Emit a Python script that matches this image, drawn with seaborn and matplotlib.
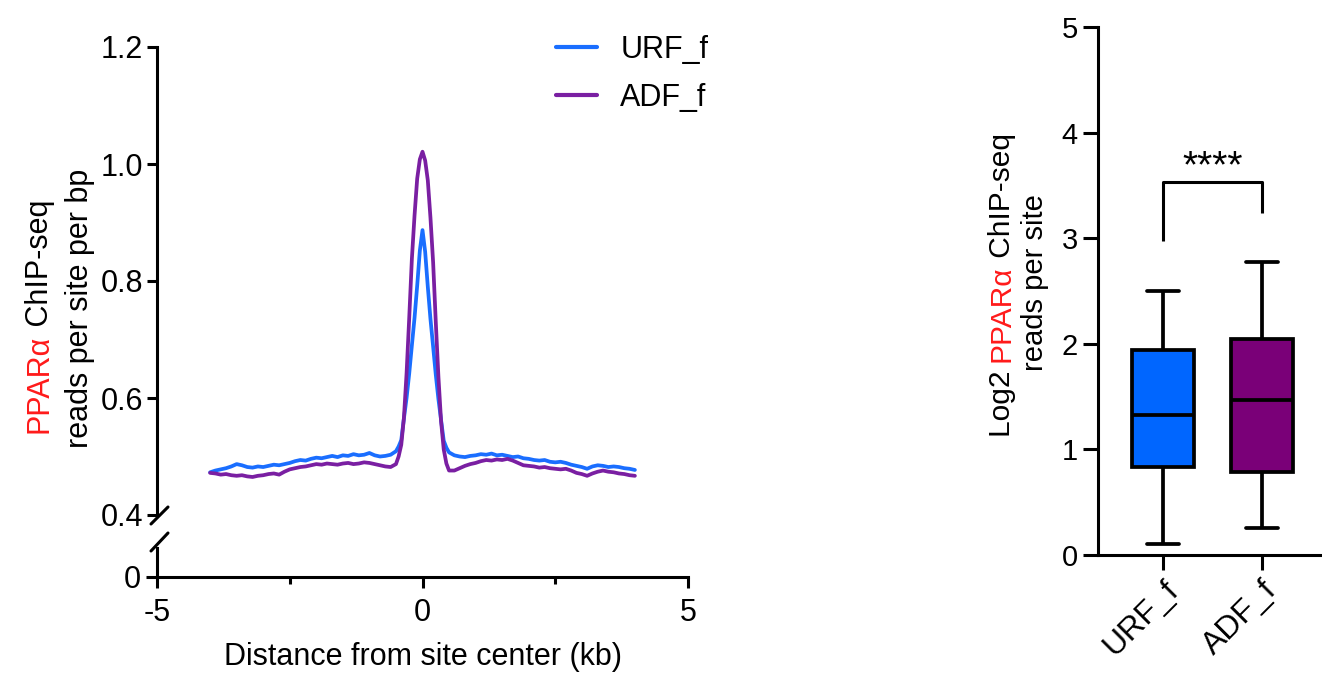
import numpy as np
import pandas as pd
import matplotlib
matplotlib.use("Agg")
import matplotlib.pyplot as plt
import seaborn as sns
from matplotlib.lines import Line2D

# ---------------- data ----------------
series_names = ["URF_f", "ADF_f"]
line_colors = ["#1A6EFF", "#7A1FA2"]
box_colors = ["#0066FF", "#7A0078"]

# distance grid (kb): flanks every 0.1 kb, centre every 0.05 kb
dist_left = np.round(np.arange(-4.0, -0.45, 0.1), 2)
dist_center = np.round(np.arange(-0.45, 0.46, 0.05), 2)
dist_right = np.round(np.arange(0.5, 4.01, 0.1), 2)

urf_left = [0.473, 0.476, 0.478, 0.480, 0.483, 0.487, 0.485, 0.482, 0.481, 0.483,
            0.482, 0.484, 0.486, 0.485, 0.487, 0.489, 0.492, 0.494, 0.493, 0.496,
            0.498, 0.497, 0.499, 0.501, 0.499, 0.502, 0.501, 0.504, 0.502, 0.503,
            0.506, 0.502, 0.500, 0.501, 0.503, 0.509]
urf_center = [0.517, 0.528, 0.565, 0.600, 0.642, 0.690, 0.737, 0.792, 0.852, 0.887,
              0.850, 0.790, 0.735, 0.688, 0.640, 0.598, 0.562, 0.527, 0.515]
urf_right = [0.507, 0.502, 0.500, 0.499, 0.501, 0.502, 0.504, 0.503, 0.505, 0.502,
             0.503, 0.501, 0.499, 0.500, 0.497, 0.496, 0.494, 0.493, 0.494, 0.491,
             0.490, 0.491, 0.489, 0.486, 0.484, 0.482, 0.479, 0.483, 0.485, 0.484,
             0.482, 0.483, 0.482, 0.480, 0.479, 0.477]

adf_left = [0.472, 0.471, 0.469, 0.470, 0.468, 0.467, 0.468, 0.466, 0.465, 0.467,
            0.468, 0.470, 0.471, 0.469, 0.474, 0.478, 0.480, 0.482, 0.483, 0.485,
            0.487, 0.486, 0.488, 0.487, 0.486, 0.488, 0.489, 0.487, 0.488, 0.490,
            0.489, 0.487, 0.485, 0.483, 0.482, 0.487]
adf_center = [0.500, 0.520, 0.566, 0.642, 0.737, 0.838, 0.912, 0.975, 1.008, 1.021,
              1.006, 0.972, 0.908, 0.832, 0.730, 0.636, 0.560, 0.512, 0.488]
adf_right = [0.476, 0.476, 0.480, 0.484, 0.487, 0.489, 0.492, 0.494, 0.493, 0.495,
             0.494, 0.496, 0.493, 0.489, 0.485, 0.484, 0.483, 0.481, 0.482, 0.480,
             0.479, 0.478, 0.479, 0.476, 0.472, 0.470, 0.467, 0.471, 0.474, 0.476,
             0.474, 0.473, 0.471, 0.470, 0.468, 0.467]

# box-plot summaries: min, Q1, median, Q3, max
urf_box = [0.10, 0.83, 1.33, 1.94, 2.50]
adf_box = [0.26, 0.79, 1.47, 2.05, 2.77]

left_yticks = [0.4, 0.6, 0.8, 1.0, 1.2]
left_ytick_labels = ["0.4", "0.6", "0.8", "1.0", "1.2"]
right_yticks = [0, 1, 2, 3, 4, 5]
sig_text = "****"

# ---------------- build tables ----------------
dist = np.concatenate([dist_left, dist_center, dist_right])
urf = np.array(urf_left + urf_center + urf_right)
adf = np.array(adf_left + adf_center + adf_right)
df_line = pd.DataFrame({
    "dist": np.concatenate([dist, dist]),
    "value": np.concatenate([urf, adf]),
    "series": [series_names[0]] * len(dist) + [series_names[1]] * len(dist),
})
df_box = pd.DataFrame({
    "group": [series_names[0]] * len(urf_box) + [series_names[1]] * len(adf_box),
    "value": urf_box + adf_box,
})

# ---------------- figure ----------------
sns.set_theme(style="ticks")
plt.rcParams["font.family"] = ["Liberation Sans", "DejaVu Sans"]
plt.rcParams["text.color"] = "black"
plt.rcParams["axes.labelcolor"] = "black"
plt.rcParams["xtick.color"] = "black"
plt.rcParams["ytick.color"] = "black"
W, H = 1322, 674
fig = plt.figure(figsize=(W / 100, H / 100), dpi=100)

def fr(px_left, px_top, px_right, px_bottom):
    return [px_left / W, 1 - px_bottom / H, (px_right - px_left) / W, (px_bottom - px_top) / H]

FS = 22
LW = 2.2

# upper (main) axis
ax = fig.add_axes(fr(157, 47, 688, 515))
sns.lineplot(data=df_line, x="dist", y="value", hue="series", palette=line_colors,
             hue_order=series_names, linewidth=2.7, ax=ax, estimator=None, sort=False)
ax.set_xlim(-5, 5)
ax.set_ylim(0.4, 1.2)
ax.set_yticks(left_yticks)
ax.set_yticklabels(left_ytick_labels)
for s in ["top", "right", "bottom"]:
    ax.spines[s].set_visible(False)
ax.spines["left"].set_linewidth(LW)
ax.spines["left"].set_color("black")
ax.tick_params(axis="x", bottom=False, labelbottom=False)
ax.tick_params(axis="y", length=7, width=LW, labelsize=FS, colors="black", pad=3)
ax.set_xlabel("")
ax.set_ylabel("")
leg = ax.legend(loc="upper left", bbox_to_anchor=(0.7, 1.085), frameon=False,
                fontsize=FS, handlelength=1.35, handletextpad=0.75, labelspacing=0.6)
for lh in leg.get_lines():
    lh.set_linewidth(3.0)
for t in leg.get_texts():
    t.set_color("black")

# lower axis (0 segment)
axb = fig.add_axes(fr(157, 548, 688, 577))
axb.set_xlim(-5, 5)
axb.set_ylim(0, 0.05)
axb.set_yticks([0])
axb.set_yticklabels(["0"])
axb.set_xticks([-5, 0, 5])
axb.set_xticklabels(["-5", "0", "5"])
axb.set_xticks([-2.5, 2.5], minor=True)
for s in ["top", "right"]:
    axb.spines[s].set_visible(False)
for s in ["left", "bottom"]:
    axb.spines[s].set_linewidth(LW)
    axb.spines[s].set_color("black")
axb.tick_params(axis="both", which="major", length=8, width=LW, labelsize=FS, colors="black")
axb.tick_params(axis="x", which="minor", length=5, width=LW, colors="black")
axb.tick_params(axis="x", pad=7)
axb.set_xlabel("Distance from site center (kb)", fontsize=FS, labelpad=10, color="black")

# axis break marks (figure pixel coordinates)
for (x0, y0, x1, y1) in [(151, 524, 168, 507), (151, 551, 168, 533)]:
    fig.add_artist(Line2D([x0 / W, x1 / W], [1 - y0 / H, 1 - y1 / H],
                          transform=fig.transFigure, color="black", lw=LW))

# ---------------- multi-colour rotated labels ----------------
fig.canvas.draw()
renderer = fig.canvas.get_renderer()

def vlabel(x_px, yc_px, parts, size):
    full = "".join(p for p, _ in parts)
    t = fig.text(x_px / W, 1 - yc_px / H, full, rotation=90, ha="center", va="center", fontsize=size)
    bb = t.get_window_extent(renderer)
    t.remove()
    y0 = bb.y0
    texts = []
    for p, c in parts:
        tt = fig.text(x_px / W, y0 / H, p, rotation=90, ha="center", va="bottom", fontsize=size, color=c)
        texts.append(tt)
        b = tt.get_window_extent(renderer)
        y0 = y0 + b.height
    return texts

RED = "#FF1A1A"
vlabel(40, 316, [("PPARα", RED), (" ChIP-seq", "black")], FS)
vlabel(80, 308, [("reads per site per bp", "black")], FS)

# ---------------- box plot ----------------
ax2 = fig.add_axes(fr(1098, 27, 1322, 555))
sns.boxplot(data=df_box, x="group", y="value", hue="group", order=series_names,
            hue_order=series_names, palette=box_colors, width=0.63, linewidth=2.7,
            linecolor="black", whis=(0, 100), fliersize=0, legend=False, saturation=1,
            ax=ax2)
ax2.set_xlim(-0.657, 1.606)
ax2.set_ylim(0, 5)
ax2.set_yticks(right_yticks)
for s in ["top", "right"]:
    ax2.spines[s].set_visible(False)
for s in ["left", "bottom"]:
    ax2.spines[s].set_linewidth(LW)
    ax2.spines[s].set_color("black")
ax2.tick_params(axis="both", length=11, width=LW, labelsize=21, colors="black")
ax2.set_xlabel("")
ax2.set_ylabel("")
for lab in ax2.get_xticklabels():
    lab.set_rotation(45)
    lab.set_ha("right")
    lab.set_va("top")
    lab.set_rotation_mode("anchor")
    lab.set_fontsize(23)

ax2.plot([0, 0, 1, 1], [2.97, 3.53, 3.53, 3.24], color="black", lw=LW, solid_capstyle="butt")
ax2.text(0.5, 3.58, sig_text, ha="center", va="baseline", fontsize=28, color="black")

vlabel(1002, 285, [("Log2 ", "black"), ("PPARα", RED), (" ChIP-seq", "black")], 21.5)
vlabel(1035, 283, [("reads per site", "black")], 21)

fig.savefig("out.png", dpi=100)
